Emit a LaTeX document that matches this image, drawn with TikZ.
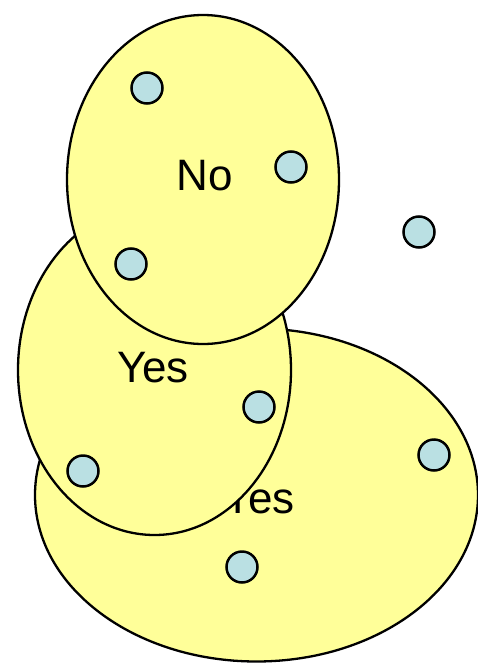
\documentclass[tikz,border=0pt]{standalone}
\usepackage{fontspec}
\setmainfont{Liberation Sans}
\definecolor{setfill}{HTML}{FFFF99}
\definecolor{dotfill}{HTML}{BAE0E3}
\begin{document}
\begin{tikzpicture}[x=1pt,y=-1pt,
  setshape/.style={draw=black,line width=2.3pt,fill=setfill},
  dotshape/.style={circle,draw=black,line width=2.5pt,fill=dotfill,minimum size=31pt,inner sep=0pt},
  lbl/.style={font=\fontsize{44}{46}\selectfont,inner sep=0pt}]
\useasboundingbox (0,0) rectangle (477,664);
% bottom set
\path[setshape] (256.5,495) ellipse [x radius=221.5, y radius=166.5];
\node[lbl] (y2) at (259,499) {Yes};
% middle set
\path[setshape] (154.5,370) ellipse [x radius=136.5, y radius=165];
\node[lbl] (y1) at (153,368) {Yes};
% top set
\path[setshape] (203,179.5) ellipse [x radius=136, y radius=164.5];
\node[lbl] (no) at (204.5,176) {No};
% dots
\node[dotshape] (d1) at (147,88) {};
\node[dotshape] (d2) at (291,167) {};
\node[dotshape] (d3) at (419,232) {};
\node[dotshape] (d4) at (131,264) {};
\node[dotshape] (d5) at (259,407) {};
\node[dotshape] (d6) at (83,471) {};
\node[dotshape] (d7) at (434,455) {};
\node[dotshape] (d8) at (242,567) {};
\end{tikzpicture}
\end{document}
